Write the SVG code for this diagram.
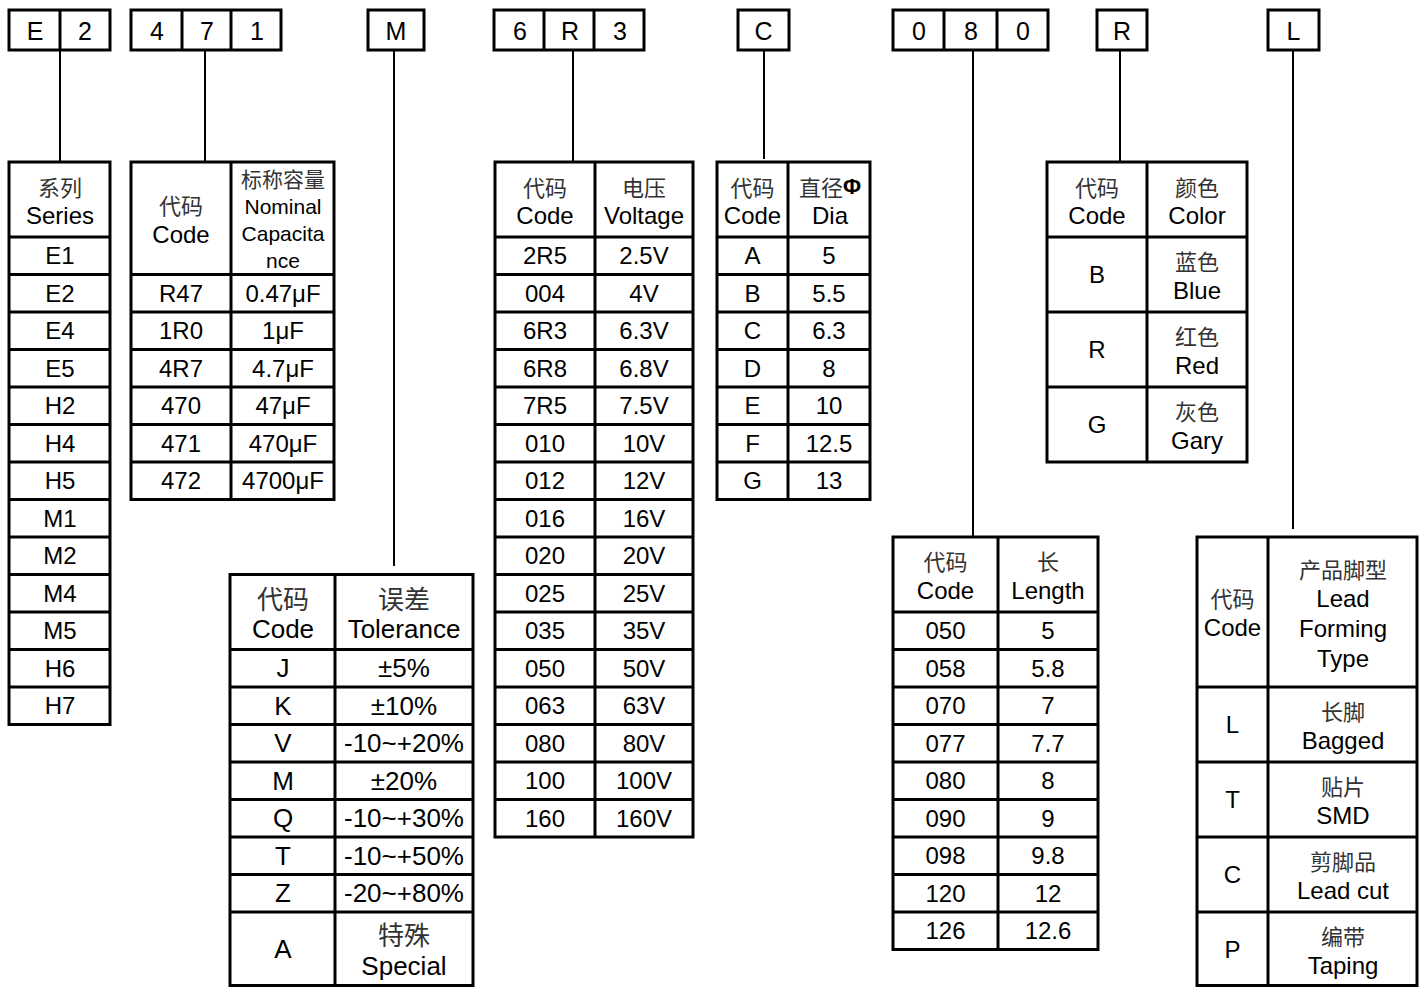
<svg xmlns="http://www.w3.org/2000/svg" width="1420" height="987" viewBox="0 0 1420 987">
<style>
.b{fill:none;stroke:#000;stroke-width:3}
.l{stroke:#000;stroke-width:3}
.c{stroke:#000;stroke-width:2;fill:none}
text{font-family:"Liberation Sans",Arial,sans-serif;font-size:24px;fill:#000;text-anchor:middle;dominant-baseline:central}
.k{font-family:"Noto Sans CJK SC","Noto Sans CJK TC",sans-serif;font-size:22px;fill:#333}
.tb{font-size:25px}
.sm{font-size:21px}
.tl{font-size:26px}
.phi{font-family:"Liberation Sans",Arial,sans-serif;font-weight:bold;fill:#000}
</style>
<rect width="1420" height="987" fill="#fff"/>

<g id="connectors">
<line class="c" x1="60" y1="50" x2="60" y2="162"/>
<line class="c" x1="205" y1="50" x2="205" y2="162"/>
<line class="c" x1="394" y1="50" x2="394" y2="566"/>
<line class="c" x1="573" y1="50" x2="573" y2="162"/>
<line class="c" x1="764" y1="50" x2="764" y2="159"/>
<line class="c" x1="973" y1="50" x2="973" y2="537"/>
<line class="c" x1="1120" y1="50" x2="1120" y2="162"/>
<line class="c" x1="1293" y1="50" x2="1293" y2="529"/>
</g>

<g id="code-E2">
<rect class="b" x="9" y="10" width="101" height="40"/>
<line class="l" x1="60" y1="10" x2="60" y2="50"/>
<text class="tb" x="35" y="31">E</text><text class="tb" x="85" y="31">2</text>
</g>
<g id="code-471">
<rect class="b" x="131" y="10" width="150" height="40"/>
<line class="l" x1="182" y1="10" x2="182" y2="50"/><line class="l" x1="231" y1="10" x2="231" y2="50"/>
<text class="tb" x="157" y="31">4</text><text class="tb" x="207" y="31">7</text><text class="tb" x="257" y="31">1</text>
</g>
<g id="code-M">
<rect class="b" x="368" y="10" width="56" height="40"/>
<text class="tb" x="396" y="31">M</text>
</g>
<g id="code-6R3">
<rect class="b" x="494" y="10" width="150" height="40"/>
<line class="l" x1="544" y1="10" x2="544" y2="50"/><line class="l" x1="594" y1="10" x2="594" y2="50"/>
<text class="tb" x="520" y="31">6</text><text class="tb" x="570" y="31">R</text><text class="tb" x="620" y="31">3</text>
</g>
<g id="code-C">
<rect class="b" x="738" y="10" width="51" height="40"/>
<text class="tb" x="763.5" y="31">C</text>
</g>
<g id="code-080">
<rect class="b" x="893" y="10" width="155" height="40"/>
<line class="l" x1="944" y1="10" x2="944" y2="50"/><line class="l" x1="997" y1="10" x2="997" y2="50"/>
<text class="tb" x="919" y="31">0</text><text class="tb" x="971" y="31">8</text><text class="tb" x="1023" y="31">0</text>
</g>
<g id="code-R">
<rect class="b" x="1097" y="10" width="50" height="40"/>
<text class="tb" x="1122" y="31">R</text>
</g>
<g id="code-L">
<rect class="b" x="1268" y="10" width="51" height="40"/>
<text class="tb" x="1293.5" y="31">L</text>
</g>

<g id="table-series">
<rect class="b" x="9" y="162" width="101" height="562.5"/>
<line class="l" x1="9" y1="237" x2="110" y2="237"/>
<line class="l" x1="9" y1="274.5" x2="110" y2="274.5"/>
<line class="l" x1="9" y1="312" x2="110" y2="312"/>
<line class="l" x1="9" y1="349.5" x2="110" y2="349.5"/>
<line class="l" x1="9" y1="387" x2="110" y2="387"/>
<line class="l" x1="9" y1="424.5" x2="110" y2="424.5"/>
<line class="l" x1="9" y1="462" x2="110" y2="462"/>
<line class="l" x1="9" y1="499.5" x2="110" y2="499.5"/>
<line class="l" x1="9" y1="537" x2="110" y2="537"/>
<line class="l" x1="9" y1="574.5" x2="110" y2="574.5"/>
<line class="l" x1="9" y1="612" x2="110" y2="612"/>
<line class="l" x1="9" y1="649.5" x2="110" y2="649.5"/>
<line class="l" x1="9" y1="687" x2="110" y2="687"/>
<text class="k" x="60" y="186">系列</text>
<text x="60" y="215">Series</text>
<text x="60" y="255.75">E1</text>
<text x="60" y="293.25">E2</text>
<text x="60" y="330.75">E4</text>
<text x="60" y="368.25">E5</text>
<text x="60" y="405.75">H2</text>
<text x="60" y="443.25">H4</text>
<text x="60" y="480.75">H5</text>
<text x="60" y="518.25">M1</text>
<text x="60" y="555.75">M2</text>
<text x="60" y="593.25">M4</text>
<text x="60" y="630.75">M5</text>
<text x="60" y="668.25">H6</text>
<text x="60" y="705.75">H7</text>
</g>

<g id="table-capacitance">
<rect class="b" x="131" y="162" width="203" height="337.5"/>
<line class="l" x1="231" y1="162" x2="231" y2="499.5"/>
<line class="l" x1="131" y1="274.5" x2="334" y2="274.5"/>
<line class="l" x1="131" y1="312" x2="334" y2="312"/>
<line class="l" x1="131" y1="349.5" x2="334" y2="349.5"/>
<line class="l" x1="131" y1="387" x2="334" y2="387"/>
<line class="l" x1="131" y1="424.5" x2="334" y2="424.5"/>
<line class="l" x1="131" y1="462" x2="334" y2="462"/>
<text class="k" x="181" y="204">代码</text>
<text x="181" y="234">Code</text>
<text class="k sm" x="283" y="178">标称容量</text>
<text class="sm" x="283" y="206">Nominal</text>
<text class="sm" x="283" y="233">Capacita</text>
<text class="sm" x="283" y="260">nce</text>
<text x="181" y="293.25">R47</text><text x="283" y="293.25">0.47μF</text>
<text x="181" y="330.75">1R0</text><text x="283" y="330.75">1μF</text>
<text x="181" y="368.25">4R7</text><text x="283" y="368.25">4.7μF</text>
<text x="181" y="405.75">470</text><text x="283" y="405.75">47μF</text>
<text x="181" y="443.25">471</text><text x="283" y="443.25">470μF</text>
<text x="181" y="480.75">472</text><text x="283" y="480.75">4700μF</text>
</g>

<g id="table-tolerance">
<rect class="b" x="230" y="574.5" width="243" height="411"/>
<line class="l" x1="335" y1="574.5" x2="335" y2="985.5"/>
<line class="l" x1="230" y1="649.5" x2="473" y2="649.5"/>
<line class="l" x1="230" y1="687" x2="473" y2="687"/>
<line class="l" x1="230" y1="724.5" x2="473" y2="724.5"/>
<line class="l" x1="230" y1="762" x2="473" y2="762"/>
<line class="l" x1="230" y1="799.5" x2="473" y2="799.5"/>
<line class="l" x1="230" y1="837" x2="473" y2="837"/>
<line class="l" x1="230" y1="874.5" x2="473" y2="874.5"/>
<line class="l" x1="230" y1="912" x2="473" y2="912"/>
<text class="k tl" x="283" y="597">代码</text>
<text class="tl" x="283" y="629">Code</text>
<text class="k tl" x="404" y="597">误差</text>
<text class="tl" x="404" y="629">Tolerance</text>
<text class="tl" x="283" y="668.25">J</text><text class="tl" x="404" y="668.25">±5%</text>
<text class="tl" x="283" y="705.75">K</text><text class="tl" x="404" y="705.75">±10%</text>
<text class="tl" x="283" y="743.25">V</text><text class="tl" x="404" y="743.25">-10~+20%</text>
<text class="tl" x="283" y="780.75">M</text><text class="tl" x="404" y="780.75">±20%</text>
<text class="tl" x="283" y="818.25">Q</text><text class="tl" x="404" y="818.25">-10~+30%</text>
<text class="tl" x="283" y="855.75">T</text><text class="tl" x="404" y="855.75">-10~+50%</text>
<text class="tl" x="283" y="893.25">Z</text><text class="tl" x="404" y="893.25">-20~+80%</text>
<text class="tl" x="283" y="949">A</text>
<text class="k tl" x="404" y="933">特殊</text>
<text class="tl" x="404" y="966">Special</text>
</g>

<g id="table-voltage">
<rect class="b" x="495" y="162" width="198" height="675"/>
<line class="l" x1="595" y1="162" x2="595" y2="837"/>
<line class="l" x1="495" y1="237" x2="693" y2="237"/>
<line class="l" x1="495" y1="274.5" x2="693" y2="274.5"/>
<line class="l" x1="495" y1="312" x2="693" y2="312"/>
<line class="l" x1="495" y1="349.5" x2="693" y2="349.5"/>
<line class="l" x1="495" y1="387" x2="693" y2="387"/>
<line class="l" x1="495" y1="424.5" x2="693" y2="424.5"/>
<line class="l" x1="495" y1="462" x2="693" y2="462"/>
<line class="l" x1="495" y1="499.5" x2="693" y2="499.5"/>
<line class="l" x1="495" y1="537" x2="693" y2="537"/>
<line class="l" x1="495" y1="574.5" x2="693" y2="574.5"/>
<line class="l" x1="495" y1="612" x2="693" y2="612"/>
<line class="l" x1="495" y1="649.5" x2="693" y2="649.5"/>
<line class="l" x1="495" y1="687" x2="693" y2="687"/>
<line class="l" x1="495" y1="724.5" x2="693" y2="724.5"/>
<line class="l" x1="495" y1="762" x2="693" y2="762"/>
<line class="l" x1="495" y1="799.5" x2="693" y2="799.5"/>
<text class="k" x="545" y="186">代码</text><text x="545" y="215">Code</text>
<text class="k" x="644" y="186">电压</text><text x="644" y="215">Voltage</text>
<text x="545" y="255.75">2R5</text><text x="644" y="255.75">2.5V</text>
<text x="545" y="293.25">004</text><text x="644" y="293.25">4V</text>
<text x="545" y="330.75">6R3</text><text x="644" y="330.75">6.3V</text>
<text x="545" y="368.25">6R8</text><text x="644" y="368.25">6.8V</text>
<text x="545" y="405.75">7R5</text><text x="644" y="405.75">7.5V</text>
<text x="545" y="443.25">010</text><text x="644" y="443.25">10V</text>
<text x="545" y="480.75">012</text><text x="644" y="480.75">12V</text>
<text x="545" y="518.25">016</text><text x="644" y="518.25">16V</text>
<text x="545" y="555.75">020</text><text x="644" y="555.75">20V</text>
<text x="545" y="593.25">025</text><text x="644" y="593.25">25V</text>
<text x="545" y="630.75">035</text><text x="644" y="630.75">35V</text>
<text x="545" y="668.25">050</text><text x="644" y="668.25">50V</text>
<text x="545" y="705.75">063</text><text x="644" y="705.75">63V</text>
<text x="545" y="743.25">080</text><text x="644" y="743.25">80V</text>
<text x="545" y="780.75">100</text><text x="644" y="780.75">100V</text>
<text x="545" y="818.25">160</text><text x="644" y="818.25">160V</text>
</g>

<g id="table-diameter">
<rect class="b" x="717" y="162" width="153" height="337.5"/>
<line class="l" x1="788" y1="162" x2="788" y2="499.5"/>
<line class="l" x1="717" y1="237" x2="870" y2="237"/>
<line class="l" x1="717" y1="274.5" x2="870" y2="274.5"/>
<line class="l" x1="717" y1="312" x2="870" y2="312"/>
<line class="l" x1="717" y1="349.5" x2="870" y2="349.5"/>
<line class="l" x1="717" y1="387" x2="870" y2="387"/>
<line class="l" x1="717" y1="424.5" x2="870" y2="424.5"/>
<line class="l" x1="717" y1="462" x2="870" y2="462"/>
<text class="k" x="752.5" y="186">代码</text><text x="752.5" y="215">Code</text>
<text class="k" x="830" y="186">直径<tspan class="phi">Φ</tspan></text><text x="830" y="215">Dia</text>
<text x="752.5" y="255.75">A</text><text x="829" y="255.75">5</text>
<text x="752.5" y="293.25">B</text><text x="829" y="293.25">5.5</text>
<text x="752.5" y="330.75">C</text><text x="829" y="330.75">6.3</text>
<text x="752.5" y="368.25">D</text><text x="829" y="368.25">8</text>
<text x="752.5" y="405.75">E</text><text x="829" y="405.75">10</text>
<text x="752.5" y="443.25">F</text><text x="829" y="443.25">12.5</text>
<text x="752.5" y="480.75">G</text><text x="829" y="480.75">13</text>
</g>

<g id="table-length">
<rect class="b" x="893" y="537" width="205" height="412.5"/>
<line class="l" x1="998" y1="537" x2="998" y2="949.5"/>
<line class="l" x1="893" y1="612" x2="1098" y2="612"/>
<line class="l" x1="893" y1="649.5" x2="1098" y2="649.5"/>
<line class="l" x1="893" y1="687" x2="1098" y2="687"/>
<line class="l" x1="893" y1="724.5" x2="1098" y2="724.5"/>
<line class="l" x1="893" y1="762" x2="1098" y2="762"/>
<line class="l" x1="893" y1="799.5" x2="1098" y2="799.5"/>
<line class="l" x1="893" y1="837" x2="1098" y2="837"/>
<line class="l" x1="893" y1="874.5" x2="1098" y2="874.5"/>
<line class="l" x1="893" y1="912" x2="1098" y2="912"/>
<text class="k" x="945.5" y="560">代码</text><text x="945.5" y="590">Code</text>
<text class="k" x="1048" y="560">长</text><text x="1048" y="590">Length</text>
<text x="945.5" y="630.75">050</text><text x="1048" y="630.75">5</text>
<text x="945.5" y="668.25">058</text><text x="1048" y="668.25">5.8</text>
<text x="945.5" y="705.75">070</text><text x="1048" y="705.75">7</text>
<text x="945.5" y="743.25">077</text><text x="1048" y="743.25">7.7</text>
<text x="945.5" y="780.75">080</text><text x="1048" y="780.75">8</text>
<text x="945.5" y="818.25">090</text><text x="1048" y="818.25">9</text>
<text x="945.5" y="855.75">098</text><text x="1048" y="855.75">9.8</text>
<text x="945.5" y="893.25">120</text><text x="1048" y="893.25">12</text>
<text x="945.5" y="930.75">126</text><text x="1048" y="930.75">12.6</text>
</g>

<g id="table-color">
<rect class="b" x="1047" y="162" width="200" height="300"/>
<line class="l" x1="1147" y1="162" x2="1147" y2="462"/>
<line class="l" x1="1047" y1="237" x2="1247" y2="237"/>
<line class="l" x1="1047" y1="312" x2="1247" y2="312"/>
<line class="l" x1="1047" y1="387" x2="1247" y2="387"/>
<text class="k" x="1097" y="186">代码</text><text x="1097" y="215">Code</text>
<text class="k" x="1197" y="186">颜色</text><text x="1197" y="215">Color</text>
<text x="1097" y="274.5">B</text><text class="k" x="1197" y="260">蓝色</text><text x="1197" y="290">Blue</text>
<text x="1097" y="349.5">R</text><text class="k" x="1197" y="335">红色</text><text x="1197" y="365">Red</text>
<text x="1097" y="424.5">G</text><text class="k" x="1197" y="410">灰色</text><text x="1197" y="440">Gary</text>
</g>

<g id="table-lead">
<rect class="b" x="1197" y="537" width="220" height="448.5"/>
<line class="l" x1="1268" y1="537" x2="1268" y2="985.5"/>
<line class="l" x1="1197" y1="687" x2="1417" y2="687"/>
<line class="l" x1="1197" y1="762" x2="1417" y2="762"/>
<line class="l" x1="1197" y1="837" x2="1417" y2="837"/>
<line class="l" x1="1197" y1="912" x2="1417" y2="912"/>
<text class="k" x="1232.5" y="597">代码</text><text x="1232.5" y="627">Code</text>
<text class="k" x="1343" y="568">产品脚型</text>
<text x="1343" y="598">Lead</text>
<text x="1343" y="628">Forming</text>
<text x="1343" y="658">Type</text>
<text x="1232.5" y="724.5">L</text><text class="k" x="1343" y="710">长脚</text><text x="1343" y="740">Bagged</text>
<text x="1232.5" y="799.5">T</text><text class="k" x="1343" y="785">贴片</text><text x="1343" y="815">SMD</text>
<text x="1232.5" y="874.5">C</text><text class="k" x="1343" y="860">剪脚品</text><text x="1343" y="890">Lead cut</text>
<text x="1232.5" y="949.5">P</text><text class="k" x="1343" y="935">编带</text><text x="1343" y="965">Taping</text>
</g>
</svg>
